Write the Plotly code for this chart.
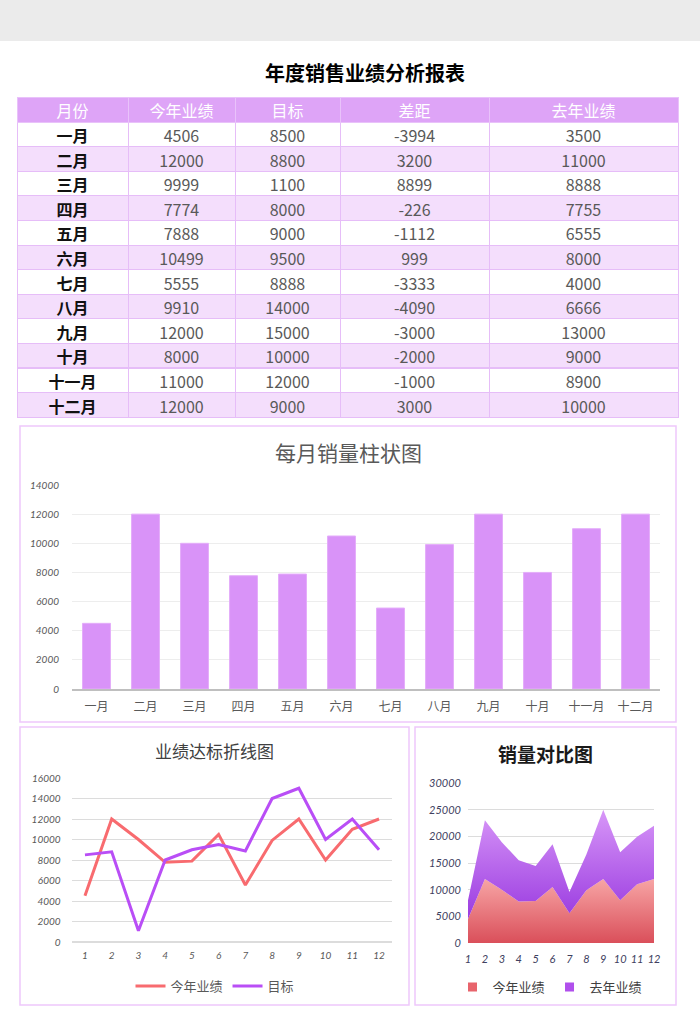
import plotly.graph_objects as go

W, H = 700, 1030

months = ["一月", "二月", "三月", "四月", "五月", "六月", "七月", "八月", "九月", "十月", "十一月", "十二月"]
month_nums = [1, 2, 3, 4, 5, 6, 7, 8, 9, 10, 11, 12]
this_year = [4506, 12000, 9999, 7774, 7888, 10499, 5555, 9910, 12000, 8000, 11000, 12000]
target = [8500, 8800, 1100, 8000, 9000, 9500, 8888, 14000, 15000, 10000, 12000, 9000]
gap = [-3994, 3200, 8899, -226, -1112, 999, -3333, -4090, -3000, -2000, -1000, 3000]
last_year = [3500, 11000, 8888, 7755, 6555, 8000, 4000, 6666, 13000, 9000, 8900, 10000]
headers = ["月份", "今年业绩", "目标", "差距", "去年业绩"]

CJK = "Noto Sans CJK SC"


def X(px):
    return px / W


def Y(py):
    return 1 - py / H


fig = go.Figure()

# ---- table ----
row_colors = ["#ffffff" if i % 2 == 0 else "#f4defc" for i in range(len(months))]
fig.add_trace(go.Table(
    domain=dict(x=[X(17), X(678)], y=[Y(420), Y(97)]),
    columnwidth=[111, 107, 105, 149, 189],
    header=dict(
        values=headers,
        fill_color="#dea4f7",
        line_color="#e9c2fa",
        font=dict(family=CJK, size=16, color="#ffffff"),
        align="center",
        height=25,
    ),
    cells=dict(
        values=[months, this_year, target, gap, last_year],
        fill_color=[row_colors] * 5,
        line_color="#e6bdf8",
        font=dict(family=CJK, size=16,
                  color=["#111111", "#595959", "#595959", "#595959", "#595959"],
                  weight=[700, 400, 400, 400, 400]),
        align="center",
        height=24.6,
    ),
))

# ---- bar chart ----
fig.add_trace(go.Bar(
    x=months, y=this_year, xaxis="x", yaxis="y",
    marker=dict(color="#d993f8", line=dict(color="#e4adfa", width=1)),
    showlegend=False,
))

# ---- line chart ----
fig.add_trace(go.Scatter(
    x=month_nums, y=this_year, xaxis="x2", yaxis="y2", mode="lines",
    name="今年业绩", line=dict(color="#f86b6f", width=3), legend="legend",
))
fig.add_trace(go.Scatter(
    x=month_nums, y=target, xaxis="x2", yaxis="y2", mode="lines",
    name="目标", line=dict(color="#b94ef6", width=3), legend="legend",
))

# ---- stacked area chart ----
fig.add_trace(go.Scatter(
    x=month_nums, y=this_year, xaxis="x3", yaxis="y3", mode="lines",
    name="今年业绩", stackgroup="s", line=dict(width=0, color="#e46a70"),
    fillgradient=dict(type="vertical", colorscale=[[0, "#da4f5a"], [1, "#f7a5a5"]]),
    showlegend=False,
))
fig.add_trace(go.Scatter(
    x=month_nums, y=last_year, xaxis="x3", yaxis="y3", mode="lines",
    name="去年业绩", stackgroup="s", line=dict(width=0, color="#b45ef0"),
    fillgradient=dict(type="vertical", colorscale=[[0, "#9a3be0"], [1, "#d897f8"]]),
    showlegend=False,
))
# legend-only entries (square swatches as in the reference)
for nm, col in [("今年业绩", "#e8646c"), ("去年业绩", "#b04fec")]:
    fig.add_trace(go.Scatter(
        x=[None], y=[None], xaxis="x3", yaxis="y3", mode="markers", name=nm,
        marker=dict(symbol="square", size=9, color=col), legend="legend2",
    ))

tick_font = dict(family="Lato", size=10, color="#595959", style="italic")
tick_font3 = dict(family="Lato", size=11, color="#404060", style="italic")


def ann(text, x, y, size, color):
    return dict(text=text, x=X(x), y=Y(y), xref="paper", yref="paper",
                xanchor="center", yanchor="middle", showarrow=False,
                font=dict(family=CJK, size=size, color=color))


fig.update_layout(
    width=W, height=H,
    margin=dict(l=0, r=0, t=0, b=0, pad=0, autoexpand=False),
    paper_bgcolor="#ffffff",
    plot_bgcolor="rgba(0,0,0,0)",
    bargap=0.43,
    xaxis=dict(domain=[X(72), X(660)], anchor="y", showgrid=False,
               showline=True, linecolor="#bfbfbf", linewidth=1.5,
               tickfont=dict(family=CJK, size=12, color="#595959"), ticks="",
               ticklabelstandoff=6),
    yaxis=dict(domain=[Y(689), Y(485)], anchor="x", range=[0, 14000], dtick=2000,
               tickformat="d", showgrid=True, gridcolor="#ededed", zeroline=False,
               tickfont=tick_font, ticklabelstandoff=12),
    xaxis2=dict(domain=[X(71.6), X(392.4)], anchor="y2", range=[0.5, 12.5],
                tickvals=month_nums, showgrid=False, zeroline=False, tickfont=tick_font,
                ticklabelstandoff=6),
    yaxis2=dict(domain=[Y(942), Y(778)], anchor="x2", range=[0, 16000], dtick=2000,
                tickformat="d", showgrid=True, gridcolor="#dcdcdc", zeroline=True,
                zerolinecolor="#dcdcdc", tickfont=tick_font, ticklabelstandoff=10),
    xaxis3=dict(domain=[X(468), X(654)], anchor="y3", range=[1, 12],
                tickvals=month_nums, showgrid=False, zeroline=False,
                tickfont=tick_font3, ticklabelstandoff=8),
    yaxis3=dict(domain=[Y(943), Y(783)], anchor="x3", range=[0, 30000], dtick=5000,
                tickformat="d", showgrid=True, gridcolor="#dcdcdc", zeroline=False,
                tickfont=tick_font3, ticklabelstandoff=6),
    legend=dict(x=X(215), y=Y(986), xanchor="center", yanchor="middle", orientation="h",
                font=dict(family=CJK, size=13, color="#595959"), bgcolor="rgba(0,0,0,0)",
                itemwidth=30, traceorder="normal"),
    legend2=dict(x=X(550), y=Y(987), xanchor="center", yanchor="middle", orientation="h",
                 font=dict(family=CJK, size=13, color="#404040"), bgcolor="rgba(0,0,0,0)",
                 itemwidth=30, traceorder="normal"),
    shapes=[
        dict(type="rect", xref="paper", yref="paper", x0=0, x1=1, y0=Y(41), y1=1,
             fillcolor="#ebebeb", line=dict(width=0), layer="below"),
        dict(type="rect", xref="paper", yref="paper", x0=X(20), x1=X(676), y0=Y(722), y1=Y(426),
             line=dict(color="#eec8fb", width=1.5)),
        dict(type="rect", xref="paper", yref="paper", x0=X(20), x1=X(409), y0=Y(1005), y1=Y(727),
             line=dict(color="#eec8fb", width=1.5)),
        dict(type="rect", xref="paper", yref="paper", x0=X(415), x1=X(676), y0=Y(1005), y1=Y(727),
             line=dict(color="#eec8fb", width=1.5)),
    ],
    annotations=[
        ann("<b>年度销售业绩分析报表</b>", 365, 73, 20, "#000000"),
        ann("每月销量柱状图", 348, 452, 21, "#595959"),
        ann("业绩达标折线图", 214, 750, 17, "#404040"),
        ann("<b>销量对比图</b>", 545, 753, 19, "#1a1a1a"),
    ],
)

fig.write_html("out.html")
